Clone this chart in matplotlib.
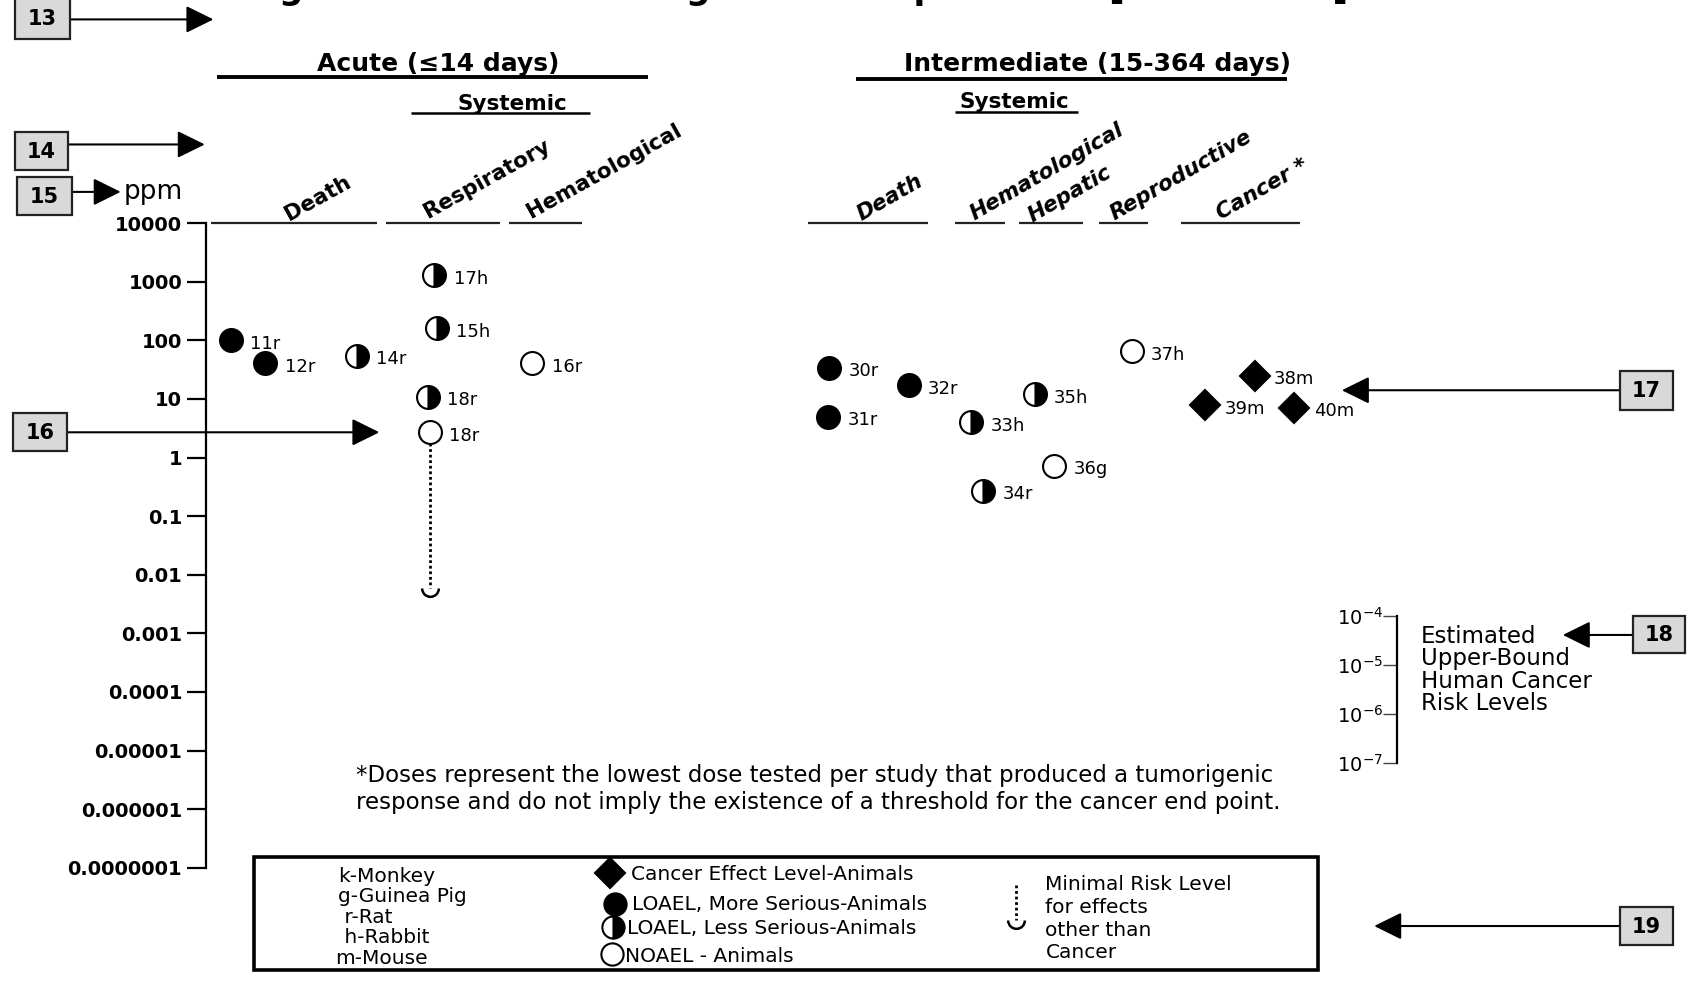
import matplotlib
matplotlib.use("Agg")
import matplotlib.pyplot as plt
from matplotlib.path import Path
from matplotlib.patches import Rectangle
from matplotlib.ticker import NullLocator

plt.rcParams['font.family'] = ['DejaVu Sans']

# ---------------- data ----------------
title = "Figure 3-1. Levels of Significant Exposure to [Chemical x] \u2013 Inhalation"
duration_headers = ["Acute (\u226414 days)", "Intermediate (15-364 days)"]
system_header = "Systemic"
acute_categories = ["Death", "Respiratory", "Hematological"]
inter_categories = ["Death", "Hematological", "Hepatic", "Reproductive", "Cancer *"]

acute_labels = ["11r", "12r", "14r", "17h", "15h", "18r", "18r", "16r"]
acute_ppm = [100, 41, 55, 1300, 160, 11, 2.7, 41]
acute_effect = ["more", "more", "less", "less", "less", "less", "noael", "noael"]
acute_mrl_ppm = 0.006

inter_labels = ["30r", "31r", "32r", "33h", "34r", "35h", "36g", "37h", "38m", "39m", "40m"]
inter_ppm = [34, 5, 17, 4, 0.27, 12, 0.73, 65, 25, 7.8, 7.1]
inter_effect = ["more", "more", "more", "less", "less", "less", "noael", "noael",
                "cancer", "cancer", "cancer"]

ppm_ticks = [1e4, 1e3, 1e2, 1e1, 1, 0.1, 0.01, 0.001, 1e-4, 1e-5, 1e-6, 1e-7]
ppm_tick_labels = ["10000", "1000", "100", "10", "1", "0.1", "0.01", "0.001",
                   "0.0001", "0.00001", "0.000001", "0.0000001"]
unit_label = "ppm"

risk_levels = [1e-4, 1e-5, 1e-6, 1e-7]
risk_tick_labels = [r"$\mathregular{10^{-4}}$", r"$\mathregular{10^{-5}}$",
                    r"$\mathregular{10^{-6}}$", r"$\mathregular{10^{-7}}$"]
risk_text = ["Estimated", "Upper-Bound", "Human Cancer", "Risk Levels"]

footnote = ["*Doses represent the lowest dose tested per study that produced a tumorigenic",
            "response and do not imply the existence of a threshold for the cancer end point."]

species = ["k-Monkey", "g-Guinea Pig", " r-Rat", " h-Rabbit", "m-Mouse"]
legend_effects = ["cancer", "more", "less", "noael"]
legend_effect_text = ["Cancer Effect Level-Animals", "LOAEL, More Serious-Animals",
                      "LOAEL, Less Serious-Animals", "NOAEL - Animals"]
mrl_text = ["Minimal Risk Level", "for effects", "other than", "Cancer"]

callout_numbers = ["13", "14", "15", "16", "17", "18", "19"]

# ---------------- layout (pixel frame 1568 x 910) ----------------
W, H = 1568.0, 910.0
AXIS_X = 191
Y_TOP, Y_BOT = 207, 805

acute_x = [214, 246, 331, 403, 405, 397, 399, 494]
inter_x = [769, 768, 843, 901, 912, 960, 978, 1050, 1164, 1118, 1201]

acute_cat_lines = [(196, 350), (358, 464), (472, 540)]
acute_cat_text = [(268, 205), (397, 203), (493, 203)]
inter_cat_lines = [(750, 861), (886, 932), (945, 1005), (1020, 1065), (1096, 1206)]
inter_cat_text = [(799, 205), (904, 205), (958, 206), (1034, 205), (1133, 204)]

callout_boxes = [(14, -2, 65, 36), (14, 122, 63, 158), (16, 164, 67, 199), (12, 383, 62, 418),
                 (1503, 344, 1552, 380), (1515, 571, 1563, 606), (1503, 841, 1552, 877)]
callout_arrows = [((65, 18), (198, 18)), ((63, 134), (190, 134)), ((67, 178), (112, 178)),
                  ((62, 401), (352, 401)), ((1503, 362), (1245, 362)),
                  ((1515, 589), (1450, 589)), ((1503, 859), (1275, 859))]

MS = 16.5


def marker_style(effect):
    base = dict(markeredgecolor='black', markeredgewidth=1.5, linestyle='none')
    if effect == 'more':
        base.update(marker='o', markersize=MS, markerfacecolor='black')
    elif effect == 'less':
        base.update(marker='o', markersize=MS, fillstyle='right',
                    markerfacecolor='black', markerfacecoloralt='white')
    elif effect == 'noael':
        base.update(marker='o', markersize=MS, markerfacecolor='white')
    else:
        base.update(marker='D', markersize=15.5, markerfacecolor='black')
    return base


cup = Path.arc(180, 360)

fig = plt.figure(figsize=(16.9, 9.81), dpi=100)

# main log axis
ax = fig.add_axes([0, 1 - Y_BOT / H, 1, (Y_BOT - Y_TOP) / H])
ax.set_xlim(0, W)
ax.set_yscale('log')
ax.set_ylim(1e-7, 1e4)
ax.patch.set_alpha(0)
for s in ['top', 'right', 'bottom']:
    ax.spines[s].set_visible(False)
ax.spines['left'].set_position(('data', AXIS_X))
ax.spines['left'].set_linewidth(1.6)
ax.xaxis.set_major_locator(NullLocator())
ax.set_yticks(ppm_ticks, ppm_tick_labels, fontsize=14, fontweight='bold')
ax.yaxis.set_minor_locator(NullLocator())
ax.tick_params(axis='y', direction='out', length=14, width=1.6, pad=3)

# MRL dotted line below the acute NOAEL 18r
mrl_idx = 6
ax.plot([acute_x[mrl_idx]] * 2, [acute_ppm[mrl_idx], acute_mrl_ppm], color='black',
        lw=2, linestyle=(0, (1, 1)), zorder=2, clip_on=False)
ax.plot([acute_x[mrl_idx]], [acute_mrl_ppm], marker=cup, markersize=12, markerfacecolor='none',
        markeredgecolor='black', markeredgewidth=1.8, linestyle='none', clip_on=False, zorder=3)

for xs, vals, effs, labs in [(acute_x, acute_ppm, acute_effect, acute_labels),
                             (inter_x, inter_ppm, inter_effect, inter_labels)]:
    for x, v, e, lab in zip(xs, vals, effs, labs):
        ax.plot([x], [v], clip_on=False, zorder=5, **marker_style(e))
        ax.annotate(lab, (x, v), xytext=(14, -2.5), textcoords='offset points',
                    ha='left', va='center', fontsize=13)

# cancer risk scale
rax = fig.add_axes([1296 / W, 1 - 708 / H, 0.02, (708 - 571) / H])
rax.set_yscale('log')
rax.set_ylim(1e-7, 1e-4)
rax.patch.set_alpha(0)
for s in ['top', 'right', 'bottom']:
    rax.spines[s].set_visible(False)
rax.spines['left'].set_linewidth(1.6)
rax.xaxis.set_major_locator(NullLocator())
rax.set_yticks(risk_levels, risk_tick_labels, fontsize=14)
rax.yaxis.set_minor_locator(NullLocator())
rax.tick_params(axis='y', direction='out', length=10, width=1.0, pad=0, color='#444444')

# overlay in pixel frame
ov = fig.add_axes([0, 0, 1, 1])
ov.set_xlim(0, W)
ov.set_ylim(H, 0)
ov.axis('off')
ov.patch.set_alpha(0)

# title (only its lower edge shows, as in the reference)
tt = ov.text(848, -1, title, ha='center', va='baseline', fontsize=22, fontweight='bold')
fig.canvas.draw()
bw = tt.get_window_extent().width
tt.set_fontsize(22 * ((1465 - 230) / W * fig.bbox.width) / bw)

# duration headers
ov.text(407, 66, duration_headers[0], ha='center', va='baseline', fontsize=18, fontweight='bold')
ov.plot([201, 601], [71, 71], color='black', lw=2.8, solid_capstyle='butt')
ov.text(1018, 66, duration_headers[1], ha='center', va='baseline', fontsize=18, fontweight='bold')
ov.plot([794, 1194], [73, 73], color='black', lw=2.8, solid_capstyle='butt')
ov.text(475, 102, system_header, ha='center', va='baseline', fontsize=15.5, fontweight='bold')
ov.plot([381, 547], [105, 105], color='black', lw=1.8, solid_capstyle='butt')
ov.text(941, 100, system_header, ha='center', va='baseline', fontsize=15.5, fontweight='bold')
ov.plot([886, 1000], [104, 104], color='black', lw=1.8, solid_capstyle='butt')

# category labels and underlines
for (x0, x1), (tx, ty), name in zip(acute_cat_lines, acute_cat_text, acute_categories):
    ov.plot([x0, x1], [Y_TOP, Y_TOP], color='#222222', lw=1.6, solid_capstyle='butt')
    ov.text(tx, ty, name, rotation=29, rotation_mode='anchor', ha='left', va='baseline',
            fontsize=15.5, fontweight='bold')
for (x0, x1), (tx, ty), name in zip(inter_cat_lines, inter_cat_text, inter_categories):
    ov.plot([x0, x1], [Y_TOP, Y_TOP], color='#222222', lw=1.6, solid_capstyle='butt')
    ov.text(tx, ty, name, rotation=30, rotation_mode='anchor', ha='left', va='baseline',
            fontsize=15.5, fontweight='bold', fontstyle='italic')

# callouts
for num, (bx0, by0, bx1, by1), (a0, a1) in zip(callout_numbers, callout_boxes, callout_arrows):
    ov.add_patch(Rectangle((bx0, by0), bx1 - bx0, by1 - by0, facecolor='#d9d9d9',
                           edgecolor='#222222', lw=1.6, zorder=4))
    ov.text((bx0 + bx1) / 2, (by0 + by1) / 2 + 1, num, ha='center', va='center',
            fontsize=15, fontweight='bold', zorder=5)
    ov.annotate('', xy=a1, xytext=a0,
                arrowprops=dict(arrowstyle='-|>,head_length=0.85,head_width=0.42',
                                mutation_scale=20, lw=1.5, color='black',
                                shrinkA=0, shrinkB=0))
ov.text(115, 178, unit_label, ha='left', va='center', fontsize=19)

# risk text
for i, line in enumerate(risk_text):
    ov.text(1318, 596 + 21 * i, line, ha='left', va='baseline', fontsize=16.5)

# footnote
for i, line in enumerate(footnote):
    ov.text(330, 725 + 25 * i, line, ha='left', va='baseline', fontsize=16.5)

# legend box
ov.add_patch(Rectangle((236, 795), 987, 105, facecolor='none', edgecolor='black', lw=2.6))
sp_x = [314, 314, 314, 314, 311]
for i, s in enumerate(species):
    ov.text(sp_x[i], 818 + 19 * i, s, ha='left', va='baseline', fontsize=14.5)
leg_sym = [(566, 810), (571, 839), (569, 860), (568, 885)]
leg_txt = [(585, 816), (586, 844), (582, 866), (580, 892)]
for e, txt, (sx, sy), (tx, ty) in zip(legend_effects, legend_effect_text, leg_sym, leg_txt):
    st = marker_style(e)
    if e != 'cancer':
        st['markersize'] = 16
    ov.plot([sx], [sy], **st)
    ov.text(tx, ty, txt, ha='left', va='baseline', fontsize=14.5)
ov.plot([943, 943], [821, 853], color='black', lw=2, linestyle=(0, (1, 1)))
ov.plot([943], [853], marker=cup, markersize=12, markerfacecolor='none',
        markeredgecolor='black', markeredgewidth=1.8, linestyle='none')
for i, line in enumerate(mrl_text):
    ov.text(970, 826 + 21 * i, line, ha='left', va='baseline', fontsize=14.5)

fig.savefig('out.png', dpi=100)
